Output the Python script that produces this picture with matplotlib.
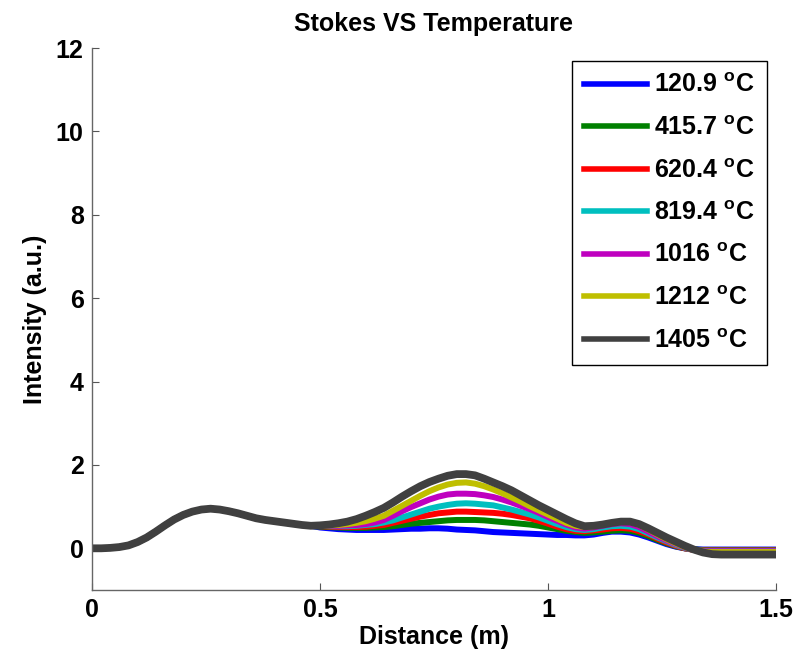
import numpy as np
import matplotlib
matplotlib.use("Agg")
import matplotlib.pyplot as plt

plt.rcParams['font.family'] = ['Liberation Sans', 'DejaVu Sans']
plt.rcParams['font.weight'] = 'bold'
plt.rcParams['mathtext.fontset'] = 'custom'
plt.rcParams['mathtext.bf'] = 'Liberation Sans:bold'
plt.rcParams['mathtext.rm'] = 'Liberation Sans:bold'
plt.rcParams['mathtext.default'] = 'bf'

# Distance samples (m), every 0.02 m from 0 to 1.5
distance = np.linspace(0, 1.5, 76)

# first hump, 0 .. 0.48 m: all temperatures lie on top of each other here
head = [0.00, 0.00, 0.01, 0.03, 0.07, 0.15, 0.26, 0.40, 0.55, 0.69, 0.80, 0.88, 0.93,
        0.95, 0.93, 0.89, 0.84, 0.78, 0.72, 0.68, 0.65, 0.62, 0.59, 0.56, 0.54]

# 0.50 .. 1.50 m, per temperature
tail_1209 = [0.50, 0.48, 0.46, 0.45, 0.44, 0.44, 0.44, 0.44, 0.45, 0.46, 0.47, 0.47, 0.48,
             0.48, 0.47, 0.45, 0.44, 0.43, 0.41, 0.39, 0.38, 0.37, 0.36, 0.35, 0.34, 0.33,
             0.32, 0.32, 0.31, 0.31, 0.33, 0.37, 0.40, 0.40, 0.38, 0.33, 0.26, 0.18, 0.10,
             0.04, 0.00, -0.02, -0.03, -0.03, -0.03, -0.03, -0.03, -0.03, -0.03, -0.03, -0.03]
tail_4157 = [0.52, 0.51, 0.50, 0.49, 0.49, 0.49, 0.50, 0.51, 0.53, 0.56, 0.59, 0.61, 0.63,
             0.65, 0.67, 0.68, 0.68, 0.68, 0.67, 0.65, 0.63, 0.61, 0.59, 0.57, 0.54, 0.50,
             0.46, 0.42, 0.39, 0.37, 0.38, 0.40, 0.42, 0.43, 0.42, 0.37, 0.29, 0.20, 0.12,
             0.05, 0.00, -0.03, -0.04, -0.04, -0.04, -0.04, -0.04, -0.04, -0.04, -0.04, -0.04]
tail_6204 = [0.53, 0.52, 0.51, 0.51, 0.51, 0.52, 0.54, 0.56, 0.61, 0.66, 0.71, 0.76, 0.80,
             0.84, 0.86, 0.88, 0.88, 0.87, 0.86, 0.85, 0.83, 0.80, 0.76, 0.72, 0.66, 0.59,
             0.52, 0.46, 0.42, 0.41, 0.43, 0.45, 0.48, 0.49, 0.47, 0.41, 0.33, 0.23, 0.14,
             0.06, 0.00, -0.04, -0.05, -0.05, -0.05, -0.05, -0.05, -0.05, -0.05, -0.05, -0.05]
tail_8194 = [0.54, 0.53, 0.53, 0.53, 0.54, 0.56, 0.58, 0.62, 0.67, 0.74, 0.81, 0.88, 0.95,
             1.00, 1.04, 1.07, 1.08, 1.07, 1.05, 1.03, 0.98, 0.93, 0.87, 0.81, 0.74, 0.66,
             0.58, 0.51, 0.46, 0.44, 0.46, 0.50, 0.53, 0.54, 0.52, 0.46, 0.36, 0.26, 0.17,
             0.08, 0.01, -0.04, -0.06, -0.06, -0.06, -0.06, -0.06, -0.06, -0.06, -0.06, -0.06]
tail_1016 = [0.54, 0.54, 0.54, 0.55, 0.56, 0.58, 0.62, 0.68, 0.78, 0.89, 0.99, 1.08, 1.17,
             1.24, 1.29, 1.31, 1.31, 1.30, 1.27, 1.23, 1.17, 1.10, 1.02, 0.94, 0.85, 0.75,
             0.66, 0.57, 0.50, 0.47, 0.50, 0.54, 0.58, 0.60, 0.58, 0.51, 0.40, 0.29, 0.19,
             0.10, 0.02, -0.04, -0.07, -0.07, -0.07, -0.07, -0.07, -0.07, -0.07, -0.07, -0.07]
tail_1212 = [0.54, 0.55, 0.56, 0.58, 0.61, 0.65, 0.71, 0.78, 0.90, 1.02, 1.14, 1.26, 1.37,
             1.46, 1.53, 1.57, 1.58, 1.55, 1.49, 1.41, 1.32, 1.22, 1.12, 1.01, 0.91, 0.81,
             0.71, 0.61, 0.54, 0.51, 0.53, 0.57, 0.61, 0.64, 0.63, 0.56, 0.45, 0.33, 0.22,
             0.12, 0.03, -0.04, -0.08, -0.09, -0.09, -0.09, -0.09, -0.09, -0.09, -0.09, -0.09]
tail_1405 = [0.55, 0.57, 0.60, 0.64, 0.70, 0.78, 0.87, 0.97, 1.10, 1.24, 1.37, 1.49, 1.59,
             1.67, 1.74, 1.78, 1.78, 1.75, 1.67, 1.58, 1.49, 1.39, 1.27, 1.15, 1.03, 0.92,
             0.81, 0.70, 0.60, 0.53, 0.54, 0.57, 0.61, 0.64, 0.64, 0.58, 0.48, 0.37, 0.26,
             0.16, 0.06, -0.03, -0.10, -0.14, -0.15, -0.15, -0.15, -0.15, -0.15, -0.15, -0.15]

labels = ['120.9', '415.7', '620.4', '819.4', '1016', '1212', '1405']
tails = [tail_1209, tail_4157, tail_6204, tail_8194, tail_1016, tail_1212, tail_1405]
colors = ['#0000ff', '#008000', '#ff0000', '#00bfbf', '#bf00bf', '#bfbf00', '#404040']
widths = [4.3, 4.3, 4.3, 4.3, 4.3, 4.3, 5.6]

fig = plt.figure(figsize=(8.03, 6.54), dpi=100)
ax = fig.add_axes([92 / 803, 64 / 654, 684 / 803, 542 / 654])

for lab, tl, c, lw in zip(labels, tails, colors, widths):
    intensity = np.array(head + tl)
    ax.plot(distance, intensity, color=c, lw=lw, label=lab + r' $^{o}$C')

ax.set_xlim(0, 1.5)
ax.set_ylim(-1, 12)
ax.set_xticks([0, 0.5, 1, 1.5])
ax.set_xticklabels(['0', '0.5', '1', '1.5'])
ax.set_yticks([0, 2, 4, 6, 8, 10, 12])
ax.tick_params(direction='in', length=5, width=0.8, color='#555555', labelsize=18, pad=6)
for s in ['top', 'right']:
    ax.spines[s].set_visible(False)
for s in ['left', 'bottom']:
    ax.spines[s].set_color('#666666')
    ax.spines[s].set_linewidth(1.0)

ax.set_title('Stokes VS Temperature', fontsize=18, fontweight='bold', pad=12)
ax.set_xlabel('Distance (m)', fontsize=18, fontweight='bold', labelpad=2)
ax.set_ylabel('Intensity (a.u.)', fontsize=18, fontweight='bold', labelpad=6)

leg = ax.legend(loc='upper right', bbox_to_anchor=(767 / 803, 1 - 61 / 654),
                bbox_transform=fig.transFigure, borderaxespad=0, fontsize=18,
                handlelength=2.5, handletextpad=0.3, labelspacing=0.74,
                borderpad=0.5, fancybox=False, framealpha=1)
leg.get_frame().set_edgecolor('black')
leg.get_frame().set_linewidth(1.0)
for h in leg.get_lines():
    h.set_linewidth(4.0)

fig.savefig('out.png', dpi=100)
